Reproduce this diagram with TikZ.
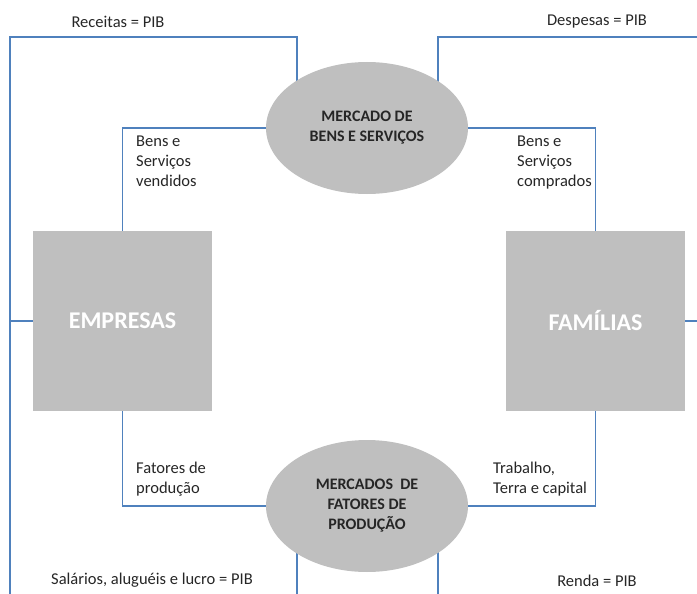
\documentclass[tikz,border=0pt]{standalone}
\usepackage{fontspec}
\setmainfont{Carlito}
\usetikzlibrary{shapes.geometric,backgrounds}
\definecolor{linec}{HTML}{4F81BD}
\definecolor{boxc}{HTML}{BFBFBF}
\definecolor{txtc}{HTML}{262626}
\tikzset{
  flow/.style={draw=linec, line width=1.1pt},
  agent/.style={fill=boxc, draw=none, minimum width=179pt, minimum height=180pt, inner sep=0pt,
    text=white, font=\fontsize{24}{28}\selectfont\bfseries},
  market/.style={ellipse, fill=boxc, draw=none, minimum width=202pt, minimum height=132pt, inner sep=0pt,
    align=center, text=txtc, font=\fontsize{16}{20}\selectfont\bfseries},
  lbl/.style={inner sep=0pt, text=txtc, font=\fontsize{16.5}{20}\selectfont},
  lbll/.style={lbl, align=left, anchor=north west},
}
\begin{document}
\begin{tikzpicture}[x=1pt, y=-1pt]
\useasboundingbox (0,0) rectangle (697,594);
\node[agent] (emp) at (122.5,321) {EMPRESAS};
\node[agent] (fam) at (595.5,321) {FAMÍLIAS};
\node[market] (mbs) at (367,128) {MERCADO DE\\BENS E SERVIÇOS};
\node[market] (mfp) at (367,506) {MERCADOS~ DE\\FATORES DE\\PRODUÇÃO};
\coordinate (tl) at (10,37);
\coordinate (tr) at (697,37);
\coordinate (bl) at (10,594);
\coordinate (rr) at (697,321);
\coordinate (b1) at (297,594);
\coordinate (b2) at (438,594);
\begin{scope}[on background layer]
% outer loops
\draw[flow] (bl) -- (tl) -| (mbs.center -| b1);
\draw[flow] (mbs.center -| b2) |- (tr);
\draw[flow] (tl |- emp.west) -- (emp.west);
\draw[flow] (fam.east) -- (rr);
\draw[flow] (mfp.center -| b1) -- (b1);
\draw[flow] (mfp.center -| b2) -- (b2);
% inner loops
\draw[flow] (mbs.west) -| (emp.north);
\draw[flow] (mbs.east) -| (fam.north);
\draw[flow] (emp.south) |- (mfp.west);
\draw[flow] (fam.south) |- (mfp.east);
\end{scope}
% labels
\node[lbl] (l1) at (118,22) {Receitas = PIB};
\node[lbl] (l2) at (597,22) {Despesas = PIB};
\node[lbll] (l3) at (136,136) {Bens e\\Serviços\\vendidos};
\node[lbll] (l4) at (517,136) {Bens e\\Serviços\\comprados};
\node[lbll] (l5) at (136,462) {Fatores de\\produção};
\node[lbll] (l6) at (493,462) {Trabalho,\\Terra e capital};
\node[lbl] (l7) at (152,580) {Salários, aluguéis e lucro = PIB};
\node[lbl] (l8) at (597,581) {Renda = PIB};
\end{tikzpicture}
\end{document}
